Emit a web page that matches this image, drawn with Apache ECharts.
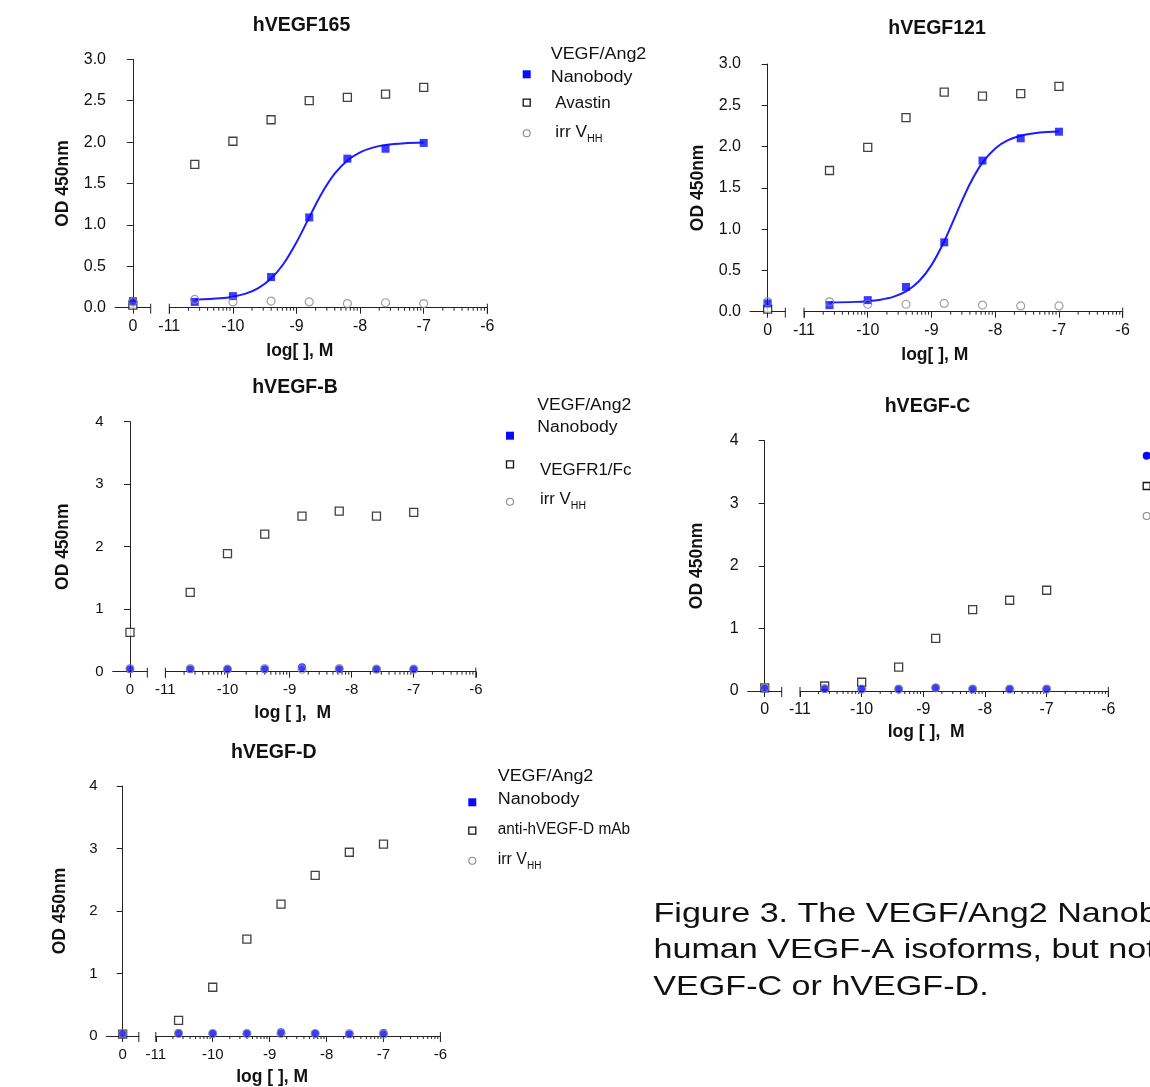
<!DOCTYPE html>
<html>
<head>
<meta charset="utf-8">
<title>VEGF/Ang2 Nanobody binding ELISA</title>
<script src="https://cdn.jsdelivr.net/npm/echarts@6/dist/echarts.min.js"></script>
<style>
  html, body { margin: 0; padding: 0; background: #fff; }
  #chart { width: 1150px; height: 1087px; }
</style>
</head>
<body>
<div id="chart"></div>
<script>
// log concentration (M); the "0" point is the no-antibody control
const conc = [-10.6, -10, -9.4, -8.8, -8.2, -7.6, -7];
const fitConc = [-10.6, -10.2, -10, -9.8, -9.6, -9.4, -9.2, -9, -8.8, -8.6, -8.4, -8.2, -8, -7.8, -7.6, -7.3, -7];
const xTicks = [-11, -10, -9, -8, -7, -6];
const minorSteps = [2, 3, 4, 5, 6, 7, 8, 9];

// hVEGF165
const v165Nano = [0.07, 0.14, 0.37, 1.09, 1.80, 1.92, 1.99];
const v165Avastin = [1.73, 2.01, 2.27, 2.50, 2.54, 2.58, 2.66];
const v165Irr = [0.10, 0.07, 0.08, 0.07, 0.05, 0.06, 0.05];
const v165Zero = [0.08, 0.03, 0.07]; // nanobody, avastin, irr
const v165Fit = [0.096, 0.113, 0.133, 0.17, 0.237, 0.352, 0.534, 0.79, 1.091, 1.384, 1.618, 1.779, 1.877, 1.933, 1.964, 1.986, 1.995];

// hVEGF121
const v121Nano = [0.08, 0.14, 0.30, 0.84, 1.83, 2.10, 2.18];
const v121Avastin = [1.71, 1.99, 2.35, 2.66, 2.61, 2.64, 2.73];
const v121Irr = [0.12, 0.09, 0.09, 0.10, 0.08, 0.07, 0.07];
const v121Zero = [0.10, 0.03, 0.12];
const v121Fit = [0.112, 0.119, 0.128, 0.146, 0.18, 0.246, 0.365, 0.564, 0.853, 1.204, 1.543, 1.805, 1.978, 2.077, 2.132, 2.169, 2.182];

// hVEGF-B
const vBNano = [0.04, 0.04, 0.04, 0.07, 0.04, 0.04, 0.04];
const vBR1Fc = [1.27, 1.89, 2.20, 2.49, 2.57, 2.49, 2.55];
const vBIrr = [0.05, 0.04, 0.05, 0.04, 0.05, 0.04, 0.04];
const vBZero = [0.04, 0.63, 0.05];

// hVEGF-C
const vCNano = [0.03, 0.03, 0.03, 0.05, 0.03, 0.03, 0.03];
const vCComp = [0.08, 0.14, 0.38, 0.84, 1.30, 1.45, 1.61];
const vCIrr = [0.04, 0.03, 0.03, 0.05, 0.03, 0.03, 0.03];
const vCZero = [0.04, 0.05, 0.05];

// hVEGF-D
const vDNano = [0.05, 0.04, 0.04, 0.06, 0.04, 0.03, 0.05];
const vDMab = [0.25, 0.78, 1.55, 2.11, 2.57, 2.94, 3.07];
const vDIrr = [0.04, 0.04, 0.04, 0.04, 0.04, 0.04, 0.03];
const vDZero = [0.03, 0.03, 0.04];

const FONT = '"Liberation Sans", Arial, Helvetica, sans-serif';
const BLUE = '#0a0aff';

// layout of the five panels (pixels)
const panels = [
  { title: 'hVEGF165', tx: 301.5, ty: 26, yx: 115, top: 59.3, y0: 307.7, lEnd: 150.7, rStart: 169.3, rEnd: 487.3,
    yMax: 3, yStep: 0.5, dec: 1, fs: 16, yGap: 42.5, xGap: 34.5, xShift: 57, xName: 'log[ ], M',
    nano: v165Nano, comp: v165Avastin, irr: v165Irr, zero: v165Zero, fit: v165Fit, nanoSym: 'rect' },
  { title: 'hVEGF121', tx: 937, ty: 29, yx: 750, top: 64, y0: 311.7, lEnd: 785.3, rStart: 804, rEnd: 1122.7,
    yMax: 3, yStep: 0.5, dec: 1, fs: 16, yGap: 43, xGap: 34.5, xShift: 57, xName: 'log[ ], M',
    nano: v121Nano, comp: v121Avastin, irr: v121Irr, zero: v121Zero, fit: v121Fit, nanoSym: 'rect' },
  { title: 'hVEGF-B', tx: 295, ty: 388, yx: 112.7, top: 421.7, y0: 671.7, lEnd: 147.3, rStart: 165.4, rEnd: 475.8,
    yMax: 4, yStep: 1, dec: 0, fs: 15, yGap: 41, xGap: 32.5, xShift: 56, xName: 'log [ ],  M',
    nano: vBNano, comp: vBR1Fc, irr: vBIrr, zero: vBZero, nanoSym: 'circle' },
  { title: 'hVEGF-C', tx: 927.5, ty: 407, yx: 747.7, top: 440.7, y0: 691, lEnd: 781.7, rStart: 800, rEnd: 1108.3,
    yMax: 4, yStep: 1, dec: 0, fs: 16, yGap: 41.5, xGap: 31.7, xShift: 56, xName: 'log [ ],  M',
    nano: vCNano, comp: vCComp, irr: vCIrr, zero: vCZero, nanoSym: 'circle' },
  { title: 'hVEGF-D', tx: 273.7, ty: 752.5, yx: 106.5, top: 786, y0: 1036, lEnd: 138.8, rStart: 155.8, rEnd: 440.4,
    yMax: 4, yStep: 1, dec: 0, fs: 15, yGap: 37.3, xGap: 31.7, xShift: 52, xName: 'log [ ], M',
    nano: vDNano, comp: vDMab, irr: vDIrr, zero: vDZero, nanoSym: 'circle' }
];

// minor (log) ticks of each decade plus the end bars of the broken axis
const minorTicks = [];
xTicks.slice(0, -1).forEach(function (d) {
  minorSteps.forEach(function (k) { minorTicks.push([d + Math.log10(k), 0]); });
});
minorTicks.push([xTicks[0], 1], [xTicks[xTicks.length - 1], 1]);

function tickItem(params, api) {
  const p = api.coord([api.value(0), 0]);
  const end = api.value(1) === 1;
  return {
    type: 'line',
    shape: { x1: p[0], y1: end ? p[1] - 4 : p[1], x2: p[0], y2: p[1] + (end ? 6 : 3) },
    style: { stroke: '#222', lineWidth: 1 }
  };
}

const compStyle = { symbol: 'rect', symbolSize: 8, itemStyle: { color: '#fff', borderColor: '#111', borderWidth: 1.3 } };
const irrStyle = { symbol: 'circle', symbolSize: 8, itemStyle: { color: 'rgba(255,255,255,0)', borderColor: '#8a8a8a', borderWidth: 1.2 } };

const grids = [], xAxes = [], yAxes = [], series = [];

panels.forEach(function (p, i) {
  const gl = 2 * i, gr = 2 * i + 1;
  const h = p.y0 - p.top;
  grids.push({ left: p.yx, top: p.top, width: p.lEnd - p.yx, height: h, outerBoundsMode: 'none' });
  grids.push({ left: p.rStart, top: p.top, width: p.rEnd - p.rStart, height: h, outerBoundsMode: 'none' });

  const axisLine = { show: true, lineStyle: { color: '#222', width: 1 } };
  const lbl = { color: '#111', fontSize: p.fs, fontFamily: FONT };

  xAxes.push({
    gridIndex: gl, type: 'value', min: -1, max: 1, interval: 1,
    axisLine: axisLine, splitLine: { show: false },
    axisTick: { show: true, length: 6, customValues: [0], lineStyle: { color: '#222' } },
    axisLabel: Object.assign({ margin: 11, customValues: [0], formatter: function (v) { return v === 0 ? '0' : ''; } }, lbl)
  });
  xAxes.push({
    gridIndex: gr, type: 'value', min: xTicks[0], max: xTicks[xTicks.length - 1], interval: 1,
    axisLine: axisLine, splitLine: { show: false },
    axisTick: { show: true, length: 6, lineStyle: { color: '#222' } },
    axisLabel: Object.assign({ margin: 11, formatter: function (v) { return String(v); } }, lbl),
    name: p.xName, nameLocation: 'middle', nameGap: p.xGap,
    nameTextStyle: { fontSize: 17.5, fontWeight: 'bold', color: '#111', fontFamily: FONT, padding: [0, p.xShift, 0, 0] }
  });
  yAxes.push({
    gridIndex: gl, type: 'value', min: 0, max: p.yMax, interval: p.yStep,
    axisLine: axisLine, splitLine: { show: false },
    axisTick: { show: true, length: 6, lineStyle: { color: '#222' } },
    axisLabel: Object.assign({ margin: 9, formatter: function (v) { return v.toFixed(p.dec); } }, lbl),
    name: 'OD 450nm', nameLocation: 'middle', nameGap: p.yGap,
    nameTextStyle: { fontSize: 17.5, fontWeight: 'bold', color: '#111', fontFamily: FONT }
  });
  yAxes.push({ gridIndex: gr, type: 'value', min: 0, max: p.yMax, interval: p.yStep, show: false });

  // axis decorations
  series.push({ type: 'custom', xAxisIndex: gl, yAxisIndex: gl, data: [[1, 1]], renderItem: tickItem, silent: true, clip: false, z: 1 });
  series.push({ type: 'custom', xAxisIndex: gr, yAxisIndex: gr, data: minorTicks, renderItem: tickItem, silent: true, clip: false, z: 1 });

  // fitted curve
  if (p.fit) {
    series.push({
      type: 'line', xAxisIndex: gr, yAxisIndex: gr, smooth: 0.3, symbol: 'none', silent: true, z: 3,
      lineStyle: { color: '#1c1cff', width: 2 },
      data: fitConc.map(function (x, j) { return [x, p.fit[j]]; })
    });
  }

  const nanoStyle = { symbol: p.nanoSym, symbolSize: 8, itemStyle: { color: BLUE } };
  const sets = [[p.comp, compStyle, 1], [p.nano, nanoStyle, 0], [p.irr, irrStyle, 2]];
  sets.forEach(function (s) {
    series.push(Object.assign({
      type: 'scatter', xAxisIndex: gr, yAxisIndex: gr, clip: false, silent: true, z: 4,
      data: conc.map(function (x, j) { return [x, s[0][j]]; })
    }, s[1]));
    series.push(Object.assign({
      type: 'scatter', xAxisIndex: gl, yAxisIndex: gl, clip: false, silent: true, z: 4,
      data: [[0, p.zero[s[2]]]]
    }, s[1]));
  });
});

// ---- text and legend graphics ----
function txt(text, x, y, size, opt) {
  opt = opt || {};
  return {
    type: 'text', x: x, y: y, scaleX: opt.sx || 1, silent: true,
    style: {
      text: text, fill: '#111', fontSize: size, fontFamily: FONT, fontWeight: opt.bold ? 'bold' : 'normal',
      align: opt.align || 'left', verticalAlign: 'middle', rich: opt.rich
    }
  };
}
function vhh(x, y, sx) {
  return txt('{m|irr V}{s|HH}', x, y, 16, {
    sx: sx,
    rich: { m: { fontSize: 16, fontFamily: FONT, fill: '#111' }, s: { fontSize: 10, fontFamily: FONT, fill: '#111', padding: [13, 0, 0, 0] } }
  });
}
function sym(kind, cx, cy) {
  if (kind === 'nano') return { type: 'rect', silent: true, shape: { x: cx - 4, y: cy - 4, width: 8, height: 8 }, style: { fill: BLUE } };
  if (kind === 'dot') return { type: 'circle', silent: true, shape: { cx: cx, cy: cy, r: 4 }, style: { fill: BLUE } };
  if (kind === 'box') return { type: 'rect', silent: true, shape: { x: cx - 3.5, y: cy - 3.5, width: 7, height: 7 }, style: { fill: '#fff', stroke: '#111', lineWidth: 1.3 } };
  return { type: 'circle', silent: true, shape: { cx: cx, cy: cy, r: 3.5 }, style: { fill: 'none', stroke: '#8a8a8a', lineWidth: 1.1 } };
}

const graphics = [];
panels.forEach(function (p) { graphics.push(txt(p.title, p.tx, p.ty, 19.5, { bold: true, align: 'center' })); });

// hVEGF165 legend
graphics.push(
  txt('VEGF/Ang2', 550.7, 55, 16, { sx: 1.12 }), txt('Nanobody', 550.7, 77.5, 16, { sx: 1.12 }), sym('nano', 526.7, 74.3),
  txt('Avastin', 555.3, 103.3, 16, { sx: 1.06 }), sym('box', 526.7, 102.7),
  vhh(555.3, 132.7, 1.08), sym('irr', 526.7, 133.3)
);
// hVEGF-B legend
graphics.push(
  txt('VEGF/Ang2', 537.3, 406, 16, { sx: 1.1 }), txt('Nanobody', 537.3, 427.3, 16, { sx: 1.1 }), sym('nano', 510, 435.7),
  txt('VEGFR1/Fc', 540, 471, 16, { sx: 1.06 }), sym('box', 510, 464.3),
  vhh(540, 500, 1.05), sym('irr', 510, 501.7)
);
// hVEGF-C legend (text falls outside the frame)
graphics.push(sym('dot', 1146.7, 455.7), sym('box', 1146.7, 486), sym('irr', 1146.7, 516));
// hVEGF-D legend
graphics.push(
  txt('VEGF/Ang2', 497.7, 776.7, 16, { sx: 1.12 }), txt('Nanobody', 497.7, 800, 16, { sx: 1.12 }), sym('nano', 472.3, 802.3),
  txt('anti-hVEGF-D mAb', 497.7, 830, 16, { sx: 0.96 }), sym('box', 472.3, 830.7),
  vhh(497.7, 860, 1.0), sym('irr', 472.3, 860.7)
);
// caption
graphics.push(
  txt('Figure 3. The VEGF/Ang2 Nanobody binds to', 653.5, 914.4, 27.5, { sx: 1.24 }),
  txt('human VEGF-A isoforms, but not to hVEGF-B, h', 653.5, 950.4, 27.5, { sx: 1.24 }),
  txt('VEGF-C or hVEGF-D.', 653.3, 987.5, 27.5, { sx: 1.24 })
);

const chart = echarts.init(document.getElementById('chart'), null, { renderer: 'canvas' });
chart.setOption({
  backgroundColor: '#fff',
  animation: false,
  grid: grids,
  xAxis: xAxes,
  yAxis: yAxes,
  series: series,
  graphic: graphics
});
window.addEventListener('resize', function () { chart.resize(); });
</script>
</body>
</html>
